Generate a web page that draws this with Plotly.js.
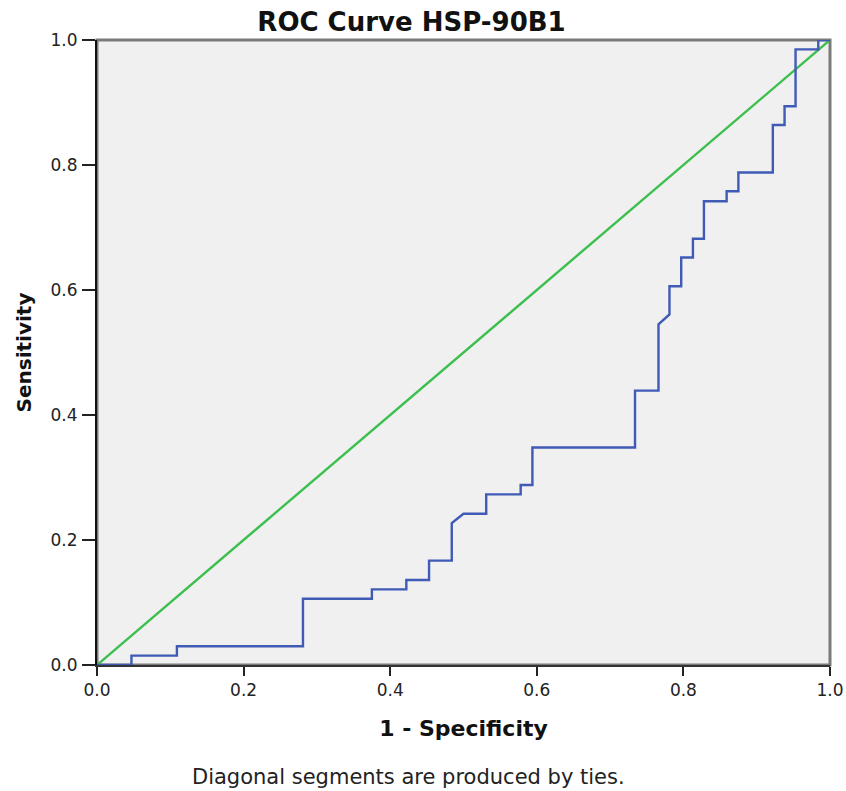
<!DOCTYPE html>
<html>
<head>
<meta charset="utf-8">
<script src="https://cdn.plot.ly/plotly-3.0.1.min.js"></script>
<style>
  html, body { margin: 0; padding: 0; background: #ffffff; }
  #chart { width: 846px; height: 791px; }
</style>
</head>
<body>
<div id="chart"></div>
<script>
// ROC curve vertices: 1 - specificity (false positive rate) and sensitivity
const fpr = [0.000, 0.047, 0.047, 0.109, 0.109, 0.281, 0.281, 0.375, 0.375, 0.422,
             0.422, 0.453, 0.453, 0.484, 0.484, 0.500, 0.531, 0.531, 0.578, 0.578,
             0.594, 0.594, 0.734, 0.734, 0.766, 0.766, 0.781, 0.781, 0.797, 0.797,
             0.813, 0.813, 0.828, 0.828, 0.859, 0.859, 0.875, 0.875, 0.922, 0.922,
             0.938, 0.938, 0.953, 0.953, 0.984, 0.984, 1.000];
const tpr = [0.000, 0.000, 0.015, 0.015, 0.030, 0.030, 0.106, 0.106, 0.121, 0.121,
             0.136, 0.136, 0.167, 0.167, 0.227, 0.242, 0.242, 0.273, 0.273, 0.288,
             0.288, 0.348, 0.348, 0.439, 0.439, 0.545, 0.561, 0.606, 0.606, 0.652,
             0.652, 0.682, 0.682, 0.742, 0.742, 0.758, 0.758, 0.788, 0.788, 0.864,
             0.864, 0.894, 0.894, 0.985, 0.985, 1.000, 1.000];

// Chance (reference) line
const refX = [0, 1];
const refY = [0, 1];

const tickVals = [0, 0.2, 0.4, 0.6, 0.8, 1.0];
const tickText = ["0.0", "0.2", "0.4", "0.6", "0.8", "1.0"];

const FONT = "DejaVu Sans, Liberation Sans, Arial, sans-serif";

const traces = [
  {
    x: refX, y: refY, type: "scatter", mode: "lines",
    line: { color: "#3dbf4f", width: 2.4 },
    hoverinfo: "skip", showlegend: false
  },
  {
    x: fpr, y: tpr, type: "scatter", mode: "lines",
    line: { color: "#3f5bb5", width: 2.4 },
    showlegend: false
  }
];

const layout = {
  width: 846, height: 791,
  margin: { l: 97, r: 16, t: 40, b: 126, pad: 0 },
  paper_bgcolor: "#ffffff",
  plot_bgcolor: "#f0f0f0",
  font: { family: FONT, color: "#222222", size: 17 },
  title: {
    text: "<b>ROC Curve HSP-90B1</b>",
    font: { family: FONT, size: 26, color: "#111111" },
    xref: "container", x: 411.5 / 846, xanchor: "center",
    yref: "container", y: 1 - 22 / 791, yanchor: "middle"
  },
  xaxis: {
    range: [0, 1], fixedrange: true,
    tickvals: tickVals, ticktext: tickText,
    ticks: "outside", ticklen: 9, tickwidth: 2, tickcolor: "#222222",
    showgrid: false, zeroline: false,
    showline: true, linecolor: "#333333", linewidth: 2,
    tickfont: { family: FONT, size: 17, color: "#222222" },
    title: {
      text: "<b>1 - Specificity</b>",
      font: { family: FONT, size: 22, color: "#111111" },
      standoff: 21
    }
  },
  yaxis: {
    range: [0, 1], fixedrange: true,
    tickvals: tickVals, ticktext: tickText,
    ticks: "outside", ticklen: 13, tickwidth: 2, tickcolor: "#222222",
    ticklabelstandoff: 1,
    showgrid: false, zeroline: false,
    showline: true, linecolor: "#111111", linewidth: 2,
    tickfont: { family: FONT, size: 17, color: "#222222" },
    title: {
      text: "<b>Sensitivity</b>",
      font: { family: FONT, size: 20, color: "#111111" },
      standoff: 14
    }
  },
  shapes: [
    {
      type: "rect", xref: "paper", yref: "paper",
      x0: 0, x1: 1, y0: 0, y1: 1,
      line: { color: "#7a7a7a", width: 3 },
      fillcolor: "rgba(0,0,0,0)", layer: "below"
    }
  ],
  annotations: [
    {
      text: "Diagonal segments are produced by ties.",
      xref: "paper", yref: "paper",
      x: (408 - 97) / 733, y: -(777 - 665) / 625,
      xanchor: "center", yanchor: "middle",
      showarrow: false,
      font: { family: FONT, size: 21, color: "#222222" }
    }
  ]
};

Plotly.newPlot("chart", traces, layout, { displayModeBar: false, staticPlot: true });
</script>
</body>
</html>
